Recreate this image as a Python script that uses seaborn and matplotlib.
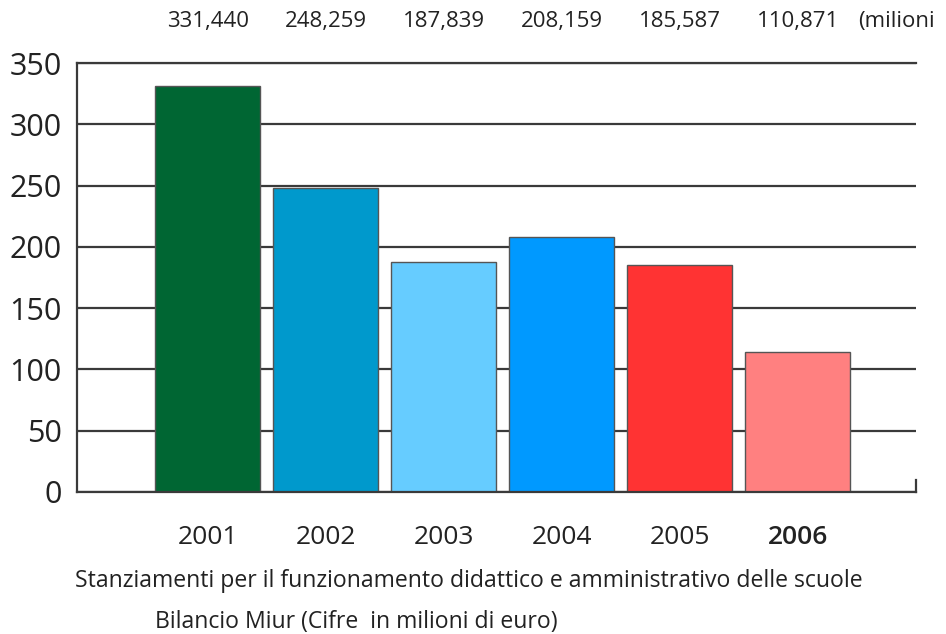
from matplotlib import pyplot as plt
from matplotlib import transforms
import seaborn as sns

# Data
years = ["2001", "2002", "2003", "2004", "2005", "2006"]
values = [331.4, 248.3, 187.8, 208.2, 185.6, 114.5]
top_labels = ["331,440", "248,259", "187,839", "208,159", "185,587", "110,871"]
colors = ["#006633", "#0099cc", "#66ccff", "#0099ff", "#ff3333", "#ff8080"]
y_ticks = [0, 50, 100, 150, 200, 250, 300, 350]

sns.set_style("white")
plt.rcParams["font.family"] = ["Open Sans", "DejaVu Sans"]

fig = plt.figure(figsize=(9.46, 6.34), dpi=100)
ax = fig.add_axes([0.0814, 0.224, 0.8866, 0.6766])

sns.barplot(
    x=years,
    y=values,
    hue=years,
    palette=colors,
    legend=False,
    width=0.89,
    edgecolor="#555555",
    linewidth=1,
    saturation=1,
    ax=ax,
)

ax.set_xlim(-1.11, 6.0)
ax.set_ylim(0, 350)
ax.set_yticks(y_ticks)
ax.set_axisbelow(True)
ax.yaxis.grid(True, color="#3a3a3a", linewidth=1.6)
ax.xaxis.grid(False)

for side in ["left", "bottom", "top", "right"]:
    ax.spines[side].set_color("#3a3a3a")
    ax.spines[side].set_linewidth(1.6)
ax.spines["right"].set_bounds(0, 10)

ax.tick_params(axis="y", length=0, pad=11, labelsize=22, labelcolor="#222222")
ax.tick_params(axis="x", length=0, pad=24, labelsize=19, labelcolor="#222222")
for lab in ax.get_xticklabels():
    if lab.get_text() == "2006":
        lab.set_fontweight("semibold")
ax.set_xlabel("")
ax.set_ylabel("")

# values written above the plot (x in data units, y in figure units)
label_y = 1 - 22 / 634
trans = transforms.blended_transform_factory(ax.transData, fig.transFigure)
for i, txt in enumerate(top_labels):
    ax.text(i, label_y, txt, transform=trans,
            ha="center", va="center", fontsize=16, color="#222222")
fig.text(858 / 946, label_y, "(milioni", ha="left", va="center",
         fontsize=16, color="#222222")

fig.text(75 / 946, 1 - 581 / 634,
         "Stanziamenti per il funzionamento didattico e amministrativo delle scuole",
         ha="left", va="center", fontsize=16.6, color="#222222")
fig.text(155 / 946, 1 - 622 / 634,
         "Bilancio Miur (Cifre  in milioni di euro)",
         ha="left", va="center", fontsize=16.6, color="#222222")

plt.savefig("out.png", dpi=100)
